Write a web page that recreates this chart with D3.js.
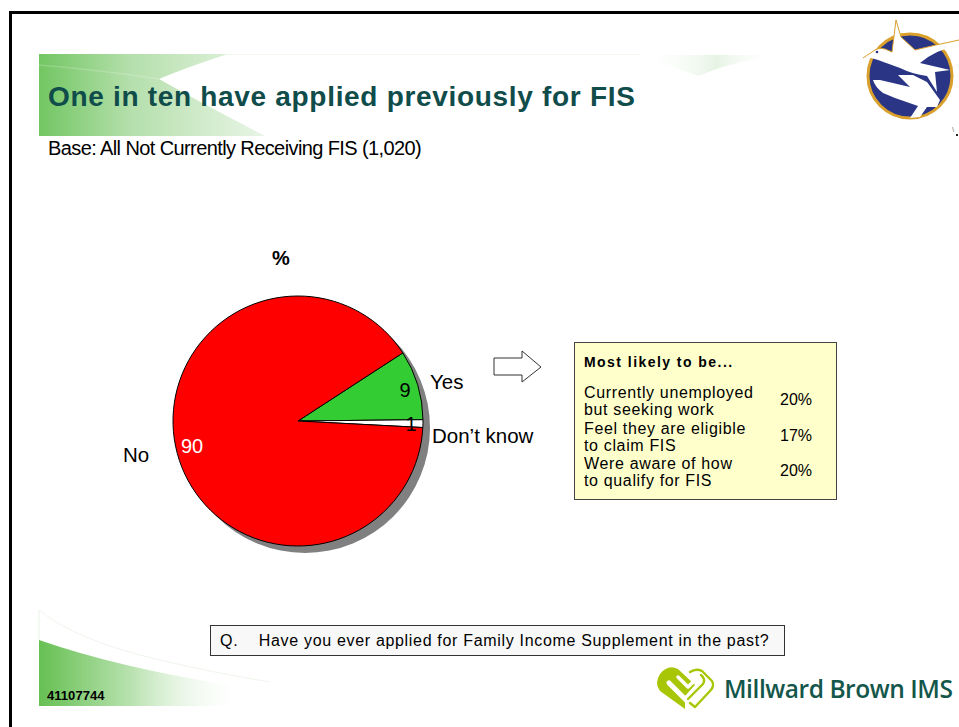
<!DOCTYPE html>
<html><head><meta charset="utf-8">
<script src="https://cdnjs.cloudflare.com/ajax/libs/d3/7.8.5/d3.min.js"></script>
<style>html,body{margin:0;padding:0;background:#fff;overflow:hidden}svg{display:block}text{font-family:"Liberation Sans",Arial,sans-serif}</style>
</head><body><svg id="c" width="959" height="727"></svg>
<script>
const categories = ["Yes", "Don’t know", "No"];
const values = [9, 1, 90];
const sliceColors = ["#33cc33", "#ffffff", "#ff0000"];
const calloutHeading = "Most likely to be...";
const calloutRows = [
  ["Currently unemployed", "but seeking work", "20%"],
  ["Feel they are eligible", "to claim FIS", "17%"],
  ["Were aware of how", "to qualify for FIS", "20%"]
];
const titleText = "One in ten have applied previously for FIS";
const baseText = "Base: All Not Currently Receiving FIS (1,020)";
const questionText = "Q.    Have you ever applied for Family Income Supplement in the past?";
const jobNumber = "41107744";
const brandText = "Millward Brown IMS";

const svg = d3.select("#c");
const defs = svg.append("defs");
function grad(id, stops) {
  const g = defs.append("linearGradient").attr("id", id).attr("x1", 0).attr("y1", 0).attr("x2", 1).attr("y2", 0);
  stops.forEach(s => g.append("stop").attr("offset", s[0]).attr("stop-color", s[1]).attr("stop-opacity", s[2]));
}
grad("gTop", [[0, "#72c662", 1], [0.4, "#b4dfab", 1], [1, "#e9f5e6", 1]]);
grad("gBot", [[0, "#66c052", 1], [0.45, "#b9e2b0", 1], [1, "#ffffff", 0]]);
grad("gFaint", [[0, "#ffffff", 0], [0.55, "#e6f4e4", 1], [1, "#ffffff", 0]]);

// page frame
svg.append("rect").attr("x", 9).attr("y", 11).attr("width", 3).attr("height", 716).attr("fill", "#000");
svg.append("rect").attr("x", 9).attr("y", 11).attr("width", 950).attr("height", 3).attr("fill", "#000");

// header banner
svg.append("path").attr("d", "M39 54H228Q190 66 159 79Q205 105 265 136H39Z").attr("fill", "url(#gTop)");
svg.append("path").attr("d", "M39 65Q100 70 159 79").attr("fill", "none").attr("stroke", "#ffffff").attr("stroke-opacity", 0.18).attr("stroke-width", 1.5);
svg.append("path").attr("d", "M228 54H640V55H228Z").attr("fill", "#f3f9f1");
svg.append("path").attr("d", "M640 55H780Q730 62 698 76Q670 65 640 55Z").attr("fill", "url(#gFaint)");

svg.append("text").attr("x", 48).attr("y", 106).attr("font-size", 28).attr("font-weight", "bold")
  .attr("fill", "#0f4c4a").attr("letter-spacing", 0.69).text(titleText);
svg.append("text").attr("x", 48).attr("y", 155).attr("font-size", 20).attr("fill", "#000")
  .attr("letter-spacing", -0.6).text(baseText);

// footer swoosh
svg.append("path").attr("d", "M39 610V640").attr("fill", "none").attr("stroke", "#e8f3e6").attr("stroke-width", 1);
svg.append("path").attr("d", "M39 610Q75 640 160 660Q210 672 270 682").attr("fill", "none").attr("stroke", "#eef6ec").attr("stroke-width", 1);
svg.append("path").attr("d", "M39 640Q120 668 230 685L245 706H39Z").attr("fill", "url(#gBot)");
svg.append("text").attr("x", 47).attr("y", 700).attr("font-size", 13).attr("font-weight", "bold")
  .attr("fill", "#000").attr("letter-spacing", 0.05).text(jobNumber);

// pie
const cx = 298, cy = 421, R = 125;
const pie = d3.pie().sort(null).startAngle(57 * Math.PI / 180).endAngle((57 + 360) * Math.PI / 180);
const arcs = pie(values);
const arc = d3.arc().innerRadius(0).outerRadius(R);
const chart = svg.append("g").attr("transform", `translate(${cx},${cy})`);
chart.append("circle").attr("cx", 7).attr("cy", 7).attr("r", R).attr("fill", "#808080");
chart.selectAll("path.s").data(arcs).join("path").attr("class", "s")
  .attr("d", arc).attr("fill", (d, i) => sliceColors[i]).attr("stroke", "#000").attr("stroke-width", 1);

svg.append("text").attr("x", 281).attr("y", 265).attr("text-anchor", "middle").attr("font-size", 20)
  .attr("font-weight", "bold").text("%");

const valueLabelPos = [[405, 397, "#000"], [411, 431, "#000"], [192, 453, "#fff"]];
chart.selectAll("text.v").data(arcs).join("text").attr("class", "v")
  .attr("x", (d, i) => valueLabelPos[i][0] - cx).attr("y", (d, i) => valueLabelPos[i][1] - cy)
  .attr("text-anchor", "middle").attr("font-size", 20).attr("fill", (d, i) => valueLabelPos[i][2])
  .text(d => d.data);
const catPos = [[430, 389], [432, 443], [123, 462]];
chart.selectAll("text.c").data(categories).join("text").attr("class", "c")
  .attr("x", (d, i) => catPos[i][0] - cx).attr("y", (d, i) => catPos[i][1] - cy)
  .attr("font-size", 20.5).attr("fill", "#000").text(d => d);

// arrow
svg.append("path").attr("d", "M494 358H522V351L541 367L522 382V375H494Z").attr("fill", "#fff").attr("stroke", "#333").attr("stroke-width", 1);

// callout
svg.append("rect").attr("x", 574.5).attr("y", 342.5).attr("width", 262).attr("height", 157)
  .attr("fill", "#ffffcc").attr("stroke", "#444").attr("stroke-width", 1);
svg.append("text").attr("x", 584).attr("y", 367).attr("font-size", 14).attr("font-weight", "bold")
  .attr("letter-spacing", 1.45).text(calloutHeading);
const rowY = [398, 434, 469];
calloutRows.forEach((r, i) => {
  svg.append("text").attr("x", 584).attr("y", rowY[i]).attr("font-size", 16).attr("letter-spacing", 0.65).text(r[0]);
  svg.append("text").attr("x", 584).attr("y", rowY[i] + 17).attr("font-size", 16).attr("letter-spacing", 0.65).text(r[1]);
  svg.append("text").attr("x", 780).attr("y", rowY[i] + 7).attr("font-size", 16).text(r[2]);
});

// question box
svg.append("rect").attr("x", 210.5).attr("y", 625.5).attr("width", 574).attr("height", 30)
  .attr("fill", "#f8f8f8").attr("stroke", "#333").attr("stroke-width", 1);
svg.append("text").attr("x", 220).attr("y", 646).attr("font-size", 16).attr("letter-spacing", 0.68)
  .style("white-space", "pre").text(questionText);

// dove logo
const dove = svg.append("g");
dove.append("circle").attr("cx", 910).attr("cy", 76).attr("r", 42).attr("fill", "#2a3585").attr("stroke", "#d9a02c").attr("stroke-width", 3);
const dovePath = "M863 58L872 52Q878 47 885 49L892 52Q894 36 896 20L901 37L915 50Q935 45 959 40V45Q935 50 920 63L950 70L935 72L937 92L927 76Q912 74 900 68L878 60Q870 57 863 58Z";
dove.append("path").attr("d", dovePath).attr("fill", "#fff");
dove.append("path").attr("d", "M863 58L872 52Q878 47 885 49L892 52Q894 36 896 20L901 37L915 50Q935 45 959 40")
  .attr("fill", "none").attr("stroke", "#d9a02c").attr("stroke-width", 1);
dove.append("circle").attr("cx", 877).attr("cy", 52).attr("r", 1.3).attr("fill", "#2a3585");
dove.append("path").attr("d", "M873 80L880 80L910 87L898 75L913 75L927 82L940 100L937 107L927 107L920 117L910 118L918 106L895 98L883 93Q875 87 873 80Z").attr("fill", "#fff");
svg.append("text").attr("x", 952).attr("y", 132).attr("font-size", 8).attr("fill", "#777").text("\\");
svg.append("rect").attr("x", 956).attr("y", 134).attr("width", 2).attr("height", 2).attr("fill", "#222");

// brand logo
const lime = "#a9c606";
const lg = svg.append("g").attr("fill", "none").attr("stroke-linejoin", "round").attr("stroke-linecap", "round");
lg.append("path").attr("d", "M685 709L660 691Q654 683 660 674Q668 664 678 669L695 685L685 696Z").attr("fill", lime);
lg.append("path").attr("d", "M669 683L686 700").attr("stroke", "#fff").attr("stroke-width", 5);
lg.append("path").attr("d", "M678 677L688 687L698 677Q701 672 694 670").attr("stroke", "#fff").attr("stroke-width", 3.5);
lg.append("path").attr("d", "M690 672Q696 668 702 671L712 681Q715 686 710 691L695 707L690 703").attr("stroke", lime).attr("stroke-width", 2.4);
lg.append("path").attr("d", "M688 699L703 684Q706 679 701 675").attr("stroke", lime).attr("stroke-width", 2.4);
svg.append("text").attr("x", 724).attr("y", 698).attr("font-size", 24.5).attr("font-weight", 600)
  .attr("fill", "#14574a").attr("letter-spacing", -0.45).style("font-family", "'Open Sans',sans-serif").text(brandText);
</script></body></html>
